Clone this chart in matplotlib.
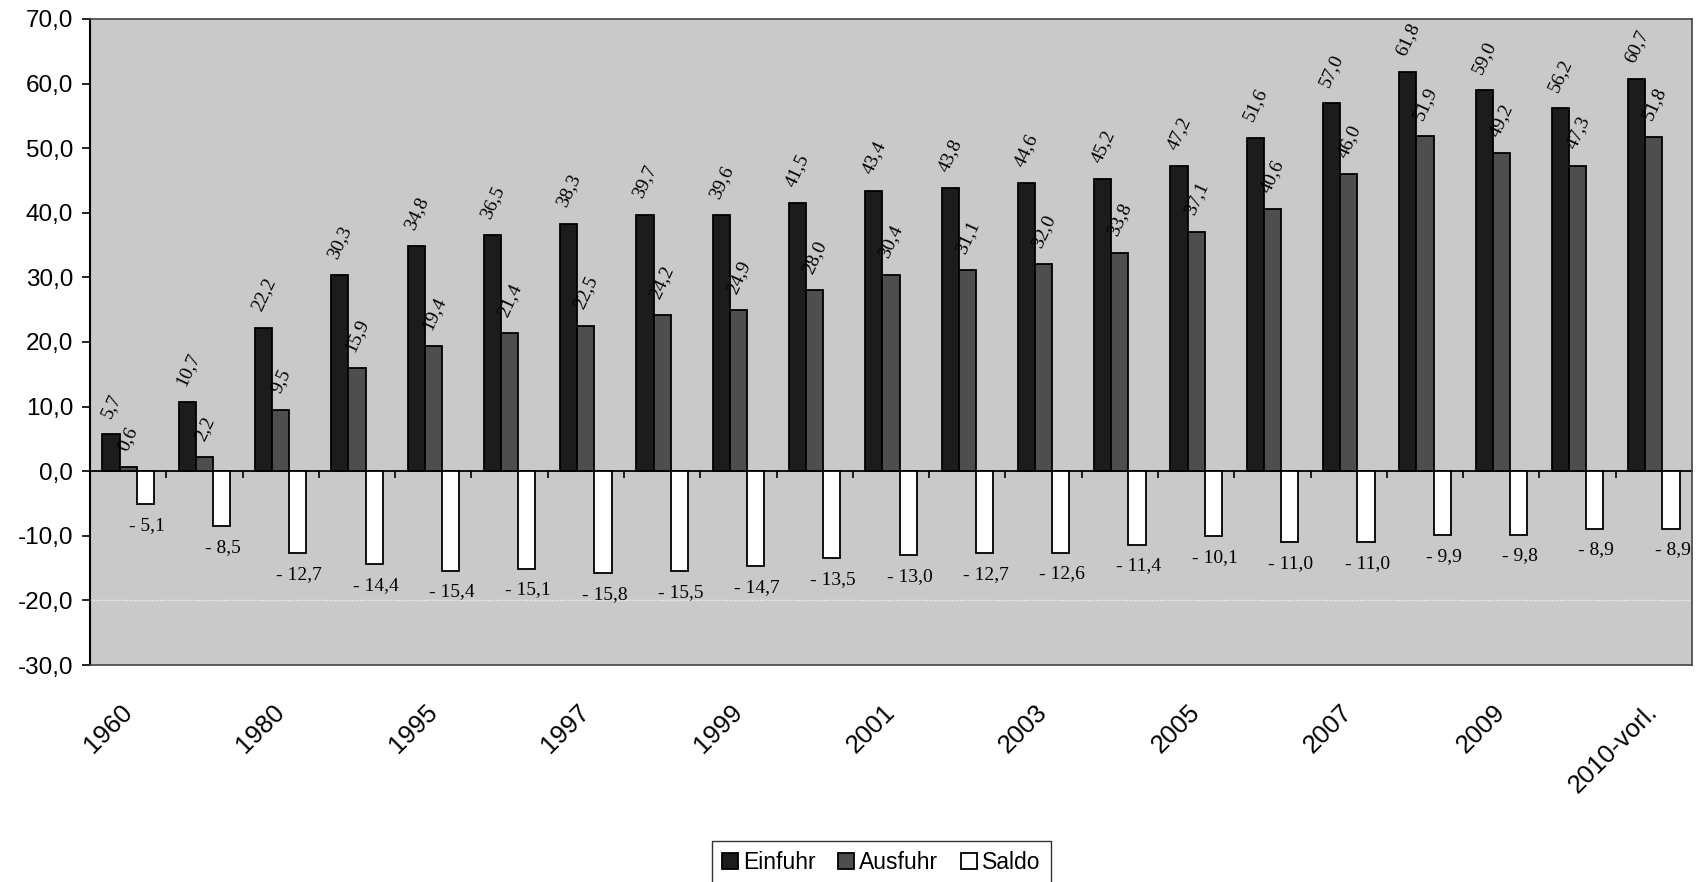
import matplotlib
matplotlib.use("Agg")
import matplotlib.pyplot as plt
import numpy as np

categories = ["1960", "1970", "1980", "1990", "1995", "1996", "1997", "1998", "1999", "2000",
              "2001", "2002", "2003", "2004", "2005", "2006", "2007", "2008", "2009", "2010",
              "2010-vorl."]
einfuhr = [5.7, 10.7, 22.2, 30.3, 34.8, 36.5, 38.3, 39.7, 39.6, 41.5, 43.4, 43.8, 44.6, 45.2,
           47.2, 51.6, 57.0, 61.8, 59.0, 56.2, 60.7]
ausfuhr = [0.6, 2.2, 9.5, 15.9, 19.4, 21.4, 22.5, 24.2, 24.9, 28.0, 30.4, 31.1, 32.0, 33.8,
           37.1, 40.6, 46.0, 51.9, 49.2, 47.3, 51.8]
saldo = [-5.1, -8.5, -12.7, -14.4, -15.4, -15.1, -15.8, -15.5, -14.7, -13.5, -13.0, -12.7,
         -12.6, -11.4, -10.1, -11.0, -11.0, -9.9, -9.8, -8.9, -8.9]
series_names = ["Einfuhr", "Ausfuhr", "Saldo"]
yticks = [-30, -20, -10, 0, 10, 20, 30, 40, 50, 60, 70]

def de(v):
    return f"{v:.1f}".replace(".", ",")

fig = plt.figure(figsize=(16.98, 8.82), dpi=100)
ax = fig.add_axes([0.053, 0.246, 0.9435, 0.7325])
ax.set_facecolor("#c9c9c9")

x = np.arange(len(categories))
w = 0.225
colors = ["#1c1c1c", "#4e4e4e", "#ffffff"]
bars = []
for k, (vals, col) in enumerate(zip([einfuhr, ausfuhr, saldo], colors)):
    b = ax.bar(x + (k - 1) * w, vals, width=w, color=col, edgecolor="black",
               linewidth=1.3, label=series_names[k], zorder=3)
    bars.append(b)

serif = "Liberation Serif"
for k, vals in enumerate([einfuhr, ausfuhr]):
    for xi, v in zip(x, vals):
        ax.annotate(de(v), xy=(xi + (k - 1) * w, v), xytext=(0, 10),
                    textcoords="offset points", ha="center", va="bottom",
                    rotation=65, fontsize=14, family=serif, zorder=5)
for xi, v in zip(x, saldo):
    ax.annotate("- " + de(abs(v)), xy=(xi + w, v), xytext=(1, -9),
                textcoords="offset points", ha="center", va="top",
                fontsize=14, family=serif, zorder=5)

ax.axhline(-20, color="white", lw=1.0, ls=(0, (1, 1)), alpha=0.8, zorder=1)

ax.set_xlim(-0.5, len(categories) - 0.5)
ax.set_ylim(-30, 70)
ax.set_yticks(yticks)
ax.set_yticklabels([de(t) for t in yticks], family="Liberation Sans", fontsize=17.5)
ax.tick_params(axis="y", direction="out", length=6, width=1.2, pad=6)

shown = list(range(0, len(categories), 2))
ax.set_xticks(shown)
ax.set_xticklabels([categories[i] for i in shown], rotation=45, ha="right", va="center",
                   rotation_mode="anchor", family="Liberation Sans", fontsize=18.5)
ax.tick_params(axis="x", length=0, pad=31)

sec = ax.secondary_xaxis(0, transform=ax.transData)
sec.set_xticks(np.arange(0.5, len(categories) - 0.5, 1))
sec.set_xticklabels([])
sec.tick_params(direction="out", length=5, width=1.2, color="black")
sec.spines["bottom"].set_linewidth(1.3)
sec.spines["bottom"].set_zorder(4)

for s in ["top", "right", "bottom"]:
    ax.spines[s].set_color("#444444")
    ax.spines[s].set_linewidth(1.2)
ax.spines["left"].set_color("black")
ax.spines["left"].set_linewidth(1.5)

leg = fig.legend(handles=bars, labels=series_names, loc="lower center",
                 bbox_to_anchor=(0.519, -0.016), ncol=3, frameon=True, fancybox=False,
                 edgecolor="black", handlelength=0.7, handleheight=0.7,
                 handletextpad=0.2, columnspacing=1.0, borderpad=0.45,
                 prop={"family": "Liberation Sans", "size": 16.5})
leg.get_frame().set_linewidth(1.0)

fig.savefig("out.png", dpi=100)
